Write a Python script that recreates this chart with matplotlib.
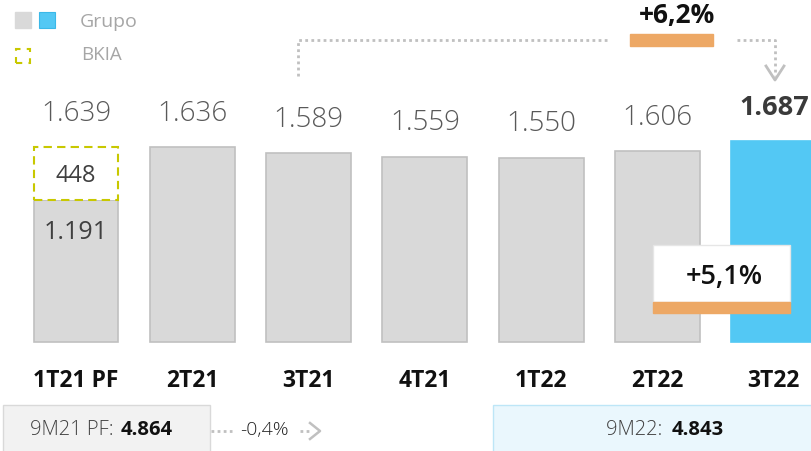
import matplotlib
matplotlib.use("Agg")
import matplotlib.pyplot as plt
from matplotlib.patches import Rectangle
from matplotlib.lines import Line2D

plt.rcParams['font.family'] = ['Open Sans', 'DejaVu Sans']

categories = ["1T21 PF", "2T21", "3T21", "4T21", "1T22", "2T22", "3T22"]
grupo = [1191, 1636, 1589, 1559, 1550, 1606, 1687]
bkia = [448, 0, 0, 0, 0, 0, 0]
totals = ["1.639", "1.636", "1.589", "1.559", "1.550", "1.606", "1.687"]
inner_labels = ["1.191"]
bkia_labels = ["448"]
qoq_change = "+5,1%"
yoy_change = "+6,2%"
nine_m_labels = ["9M21 PF: ", "9M22: "]
nine_m_values = ["4.864", "4.843"]
nine_m_change = "-0,4%"

W, H = 812, 451
fig = plt.figure(figsize=(W / 100, H / 100), dpi=100)
ax = fig.add_axes([0, 0, 1, 1])
ax.set_xlim(-0.6535, 6.328)
ax.set_ylim(-916, 2875)
ax.axis('off')

GREY = "#d9d9d9"
GREY_EDGE = "#c0c0c0"
BLUE = "#53c8f4"
ORANGE = "#eda865"
YELLOW = "#c8c800"

def P(x, y):
    return (x / W, 1 - y / H)

ft = fig.transFigure
n = len(categories)
xs = list(range(n))
colors = [GREY] * (n - 1) + [BLUE]
edges = [GREY_EDGE] * (n - 1) + [BLUE]
ax.bar(xs, grupo, width=0.73, color=colors, edgecolor=edges, linewidth=1.2, zorder=2)
ax.bar(xs[:1], bkia[:1], bottom=grupo[:1], width=0.73, color="white",
       edgecolor=YELLOW, linewidth=1.5, linestyle=(0, (4, 2.5)), zorder=2)

# labels
for i in range(n):
    top = grupo[i] + bkia[i]
    last = i == n - 1
    ax.annotate(totals[i], (i, top), xytext=(0, 24), textcoords='offset points',
                ha='center', va='center', fontsize=20 if not last else 19.5,
                color="#3a3a3a" if last else "#595959",
                fontweight='bold' if last else 'light')
    ax.annotate(categories[i], (i, 0), xytext=(0, -28), textcoords='offset points',
                ha='center', va='center', fontsize=16.5, fontweight='bold', color="#111111")

ax.annotate(bkia_labels[0], (0, grupo[0] + bkia[0] / 2), xytext=(0, -2),
            textcoords='offset points', ha='center', va='center',
            fontsize=17, color="#404040", zorder=3)
ax.annotate(inner_labels[0], (0, grupo[0]), xytext=(0, -23), textcoords='offset points',
            ha='center', va='center', fontsize=18, color="#404040", zorder=3)

# legend
fig.patches.append(Rectangle(P(15, 28), 16 / W, 16 / H, transform=ft, color=GREY))
fig.patches.append(Rectangle(P(39, 28), 16 / W, 16 / H, transform=ft, facecolor=BLUE,
                             edgecolor="#3bb8e8", lw=0.8))
fig.text(*P(80, 22), "Grupo", fontsize=14, color="#a6a6a6", va='center', ha='left')
fig.patches.append(Rectangle(P(16, 63), 14 / W, 14 / H, transform=ft, facecolor='none',
                             edgecolor=YELLOW, lw=1.5, linestyle=(0, (3, 3))))
fig.text(*P(81, 55), "BKIA", fontsize=13.5, color="#a6a6a6", va='center', ha='left')

# dotted connector top
dot = dict(color="#c0c0c0", lw=2, linestyle=(0, (1, 1.2)), transform=ft)
fig.lines.append(Line2D([298 / W, 298 / W, 610 / W], [1 - 76 / H, 1 - 40 / H, 1 - 40 / H], **dot))
fig.lines.append(Line2D([737 / W, 775 / W, 775 / W], [1 - 40 / H, 1 - 40 / H, 1 - 76 / H], **dot))
fig.lines.append(Line2D([766 / W, 775 / W, 784 / W], [1 - 66 / H, 1 - 80 / H, 1 - 66 / H],
                        color="#c0c0c0", lw=2, transform=ft))
fig.patches.append(Rectangle(P(630, 46), 83 / W, 12 / H, transform=ft, color=ORANGE))
fig.text(*P(677, 16), yoy_change, fontsize=19, fontweight='bold', color="#111111",
         ha='center', va='center')

# +5,1% box
fig.patches.append(Rectangle(P(653, 302), 137 / W, 57 / H, transform=ft, facecolor="white",
                             edgecolor="#e6e6e6", lw=1, zorder=5))
fig.patches.append(Rectangle(P(653, 313), 137 / W, 11 / H, transform=ft, color=ORANGE, zorder=5))
fig.text(*P(724, 277), qoq_change, fontsize=19.5, fontweight='semibold', color="#111111",
         ha='center', va='center', zorder=6)

# bottom boxes
fig.patches.append(Rectangle(P(3, 455), 207 / W, 50 / H, transform=ft, facecolor="#f2f2f2",
                             edgecolor="#d9d9d9", lw=1))
fig.patches.append(Rectangle(P(493, 455), 322 / W, 50 / H, transform=ft, facecolor="#eaf7fd",
                             edgecolor="#bde6f7", lw=1))
fig.text(*P(119, 430), nine_m_labels[0], fontsize=14.5, fontweight='light', color="#404040",
         ha='right', va='center')
fig.text(*P(121, 430), nine_m_values[0], fontsize=14.5, fontweight='bold', color="#111111",
         ha='left', va='center')
fig.text(*P(668, 430), nine_m_labels[1], fontsize=14.5, fontweight='light', color="#404040",
         ha='right', va='center')
fig.text(*P(672, 430), nine_m_values[1], fontsize=14.5, fontweight='bold', color="#111111",
         ha='left', va='center')
fig.lines.append(Line2D([211 / W, 232 / W], [1 - 431 / H, 1 - 431 / H], **dot))
fig.lines.append(Line2D([300 / W, 312 / W], [1 - 431 / H, 1 - 431 / H], **dot))
fig.lines.append(Line2D([310 / W, 320 / W, 310 / W], [1 - 423 / H, 1 - 431 / H, 1 - 439 / H],
                        color="#c0c0c0", lw=1.8, transform=ft))
fig.text(*P(264, 430), nine_m_change, fontsize=14, fontweight='light', color="#222222",
         ha='center', va='center')

fig.savefig("out.png", dpi=100)
